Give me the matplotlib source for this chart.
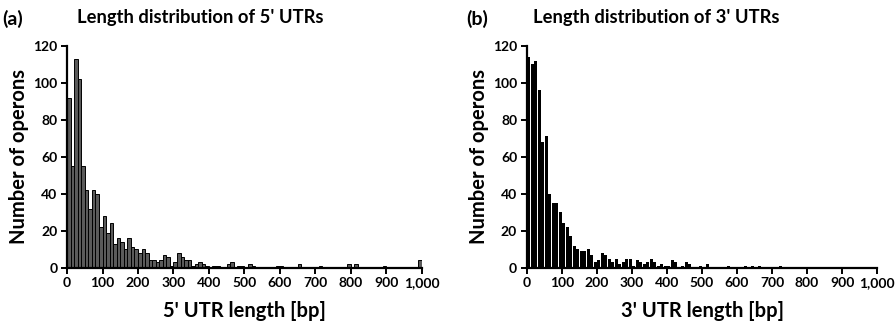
import matplotlib
matplotlib.use("Agg")

import numpy as np
import matplotlib.pyplot as plt
from matplotlib.ticker import FuncFormatter

# =========================
# Data (operon counts per 10 bp bin, 0-1000 bp)
# =========================
BIN_WIDTH = 10
utr5_counts = [
    92, 55, 113, 102, 55, 42, 32, 42, 40, 22,
    28, 19, 24, 13, 16, 14, 10, 16, 11, 10,
    8, 10, 8, 4, 4, 3, 4, 7, 6, 1,
    3, 8, 6, 4, 4, 1, 2, 3, 2, 1,
    0, 1, 1, 0, 0, 2, 3, 0, 1, 1,
    0, 2, 1, 0, 0, 0, 0, 0, 0, 1,
    1, 0, 0, 0, 0, 2, 0, 0, 0, 0,
    0, 1, 0, 0, 0, 0, 0, 0, 0, 2,
    0, 2, 0, 0, 0, 0, 0, 0, 0, 1,
    0, 0, 0, 0, 0, 0, 0, 0, 0, 4,
]
utr3_counts = [
    114, 110, 112, 96, 68, 71, 40, 35, 35, 30,
    24, 22, 17, 12, 10, 9, 9, 10, 7, 3,
    4, 8, 7, 5, 3, 5, 2, 3, 5, 5,
    1, 4, 3, 2, 3, 5, 3, 1, 2, 1,
    1, 4, 3, 0, 1, 3, 2, 0, 0, 1,
    0, 2, 0, 0, 0, 0, 0, 1, 0, 0,
    0, 0, 1, 0, 1, 0, 1, 0, 0, 0,
    0, 0, 1, 0, 0, 0, 0, 0, 0, 0,
    0, 0, 0, 0, 0, 0, 0, 0, 0, 0,
    0, 0, 0, 0, 0, 0, 0, 0, 0, 0,
]

panel_tags = ["(a)", "(b)"]
titles = ["Length distribution of 5' UTRs", "Length distribution of 3' UTRs"]
xlabels = ["5' UTR length [bp]", "3' UTR length [bp]"]
ylabel = "Number of operons"
xticks = list(range(0, 1001, 100))
yticks = list(range(0, 121, 20))

# =========================
# Style
# =========================
FONT = ["Lato", "DejaVu Sans"]
TICK_FS = 10
LABEL_FS = 14.5
TITLE_FS = 13.2
TAG_FS = 14
plt.rcParams["font.family"] = FONT
plt.rcParams["font.weight"] = "bold"

fig = plt.figure(figsize=(8.96, 3.23), dpi=100)
ax_a = fig.add_axes([0.0748, 0.171, 0.396, 0.687])
ax_b = fig.add_axes([0.588, 0.171, 0.391, 0.687])


def style_axis(ax, xlabel):
    ax.set_xlim(0, 1000)
    ax.set_ylim(0, 120)
    ax.set_xticks(xticks)
    ax.set_yticks(yticks)
    ax.xaxis.set_major_formatter(FuncFormatter(lambda v, p: f"{int(v):,}"))
    for s in ["top", "right"]:
        ax.spines[s].set_visible(False)
    for s in ["left", "bottom"]:
        ax.spines[s].set_linewidth(1.6)
        ax.spines[s].set_color("black")
    ax.tick_params(direction="out", length=4, width=1.4, labelsize=TICK_FS, pad=3)
    for t in ax.get_xticklabels() + ax.get_yticklabels():
        t.set_fontweight("bold")
    ax.set_xlabel(xlabel, fontsize=LABEL_FS, fontweight="bold", labelpad=8)
    ax.set_ylabel(ylabel, fontsize=LABEL_FS, fontweight="bold", labelpad=3)


left_edges = np.arange(0, 1000, BIN_WIDTH)

# panel (a): grey bars with black outline
ax_a.bar(left_edges, utr5_counts, width=BIN_WIDTH, align="edge",
         color="#5a5a5a", edgecolor="black", linewidth=0.7, zorder=2)
# panel (b): narrow black bars
ax_b.bar(left_edges + BIN_WIDTH / 2, utr3_counts, width=BIN_WIDTH * 0.8,
         align="center", color="black", edgecolor="none", zorder=2)

for ax, xl in [(ax_a, xlabels[0]), (ax_b, xlabels[1])]:
    style_axis(ax, xl)

# titles and panel tags
fig.text(0.002, 0.942, panel_tags[0], fontsize=TAG_FS, fontweight="bold", va="center")
fig.text(0.086, 0.945, titles[0], fontsize=TITLE_FS, fontweight="bold", va="center")
fig.text(0.520, 0.942, panel_tags[1], fontsize=TAG_FS, fontweight="bold", va="center")
fig.text(0.595, 0.945, titles[1], fontsize=TITLE_FS, fontweight="bold", va="center")

fig.savefig("out.png", dpi=100)
plt.close(fig)
